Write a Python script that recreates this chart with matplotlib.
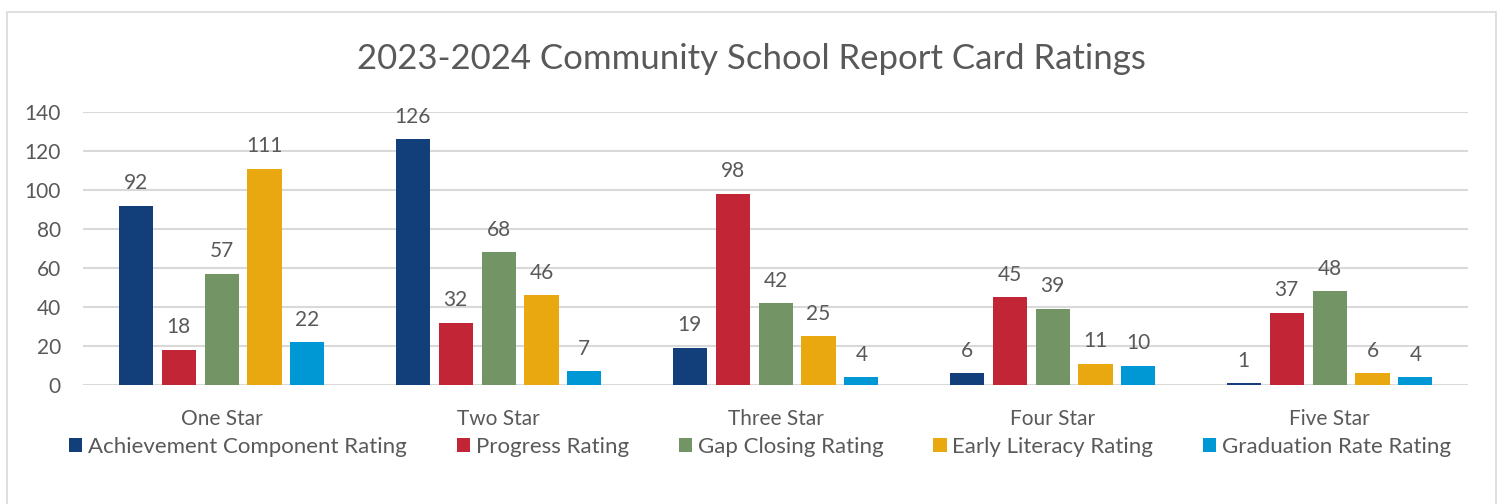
import numpy as np
import matplotlib.pyplot as plt
from matplotlib.patches import Rectangle

plt.rcParams["font.family"] = ["Lato", "DejaVu Sans"]

categories = ["One Star", "Two Star", "Three Star", "Four Star", "Five Star"]
series_names = [
    "Achievement Component Rating",
    "Progress Rating",
    "Gap Closing Rating",
    "Early Literacy Rating",
    "Graduation Rate Rating",
]
achievement = [92, 126, 19, 6, 1]
progress = [18, 32, 98, 45, 37]
gap_closing = [57, 68, 42, 39, 48]
early_literacy = [111, 46, 25, 11, 6]
graduation = [22, 7, 4, 10, 4]
colors = ["#123E7A", "#C22535", "#739464", "#E9A710", "#0098D4"]

text_color = "#595959"
grid_color = "#D9D9D9"

fig = plt.figure(figsize=(15.02, 5.04), dpi=100)
ax = fig.add_axes([0.0553, 0.2361, 0.9221, 0.5417])

x = np.arange(len(categories))
step = 0.155
width = 0.123
all_series = [achievement, progress, gap_closing, early_literacy, graduation]
for j, (name, vals, c) in enumerate(zip(series_names, all_series, colors)):
    pos = x + (j - 2) * step
    bars = ax.bar(pos, vals, width=width, color=c, label=name, zorder=3)
    for b, v in zip(bars, vals):
        ax.annotate(str(v), (b.get_x() + b.get_width() / 2, v),
                    xytext=(0, 9), textcoords="offset points",
                    ha="center", va="bottom", fontsize=15, color=text_color)

ax.set_xlim(-0.5, 4.5)
ax.set_ylim(0, 140)
ax.set_yticks(range(0, 141, 20))
ax.set_xticks(x)
ax.set_xticklabels(categories)
ax.yaxis.grid(True, color=grid_color, linewidth=1.5, zorder=0)
for s in ax.spines.values():
    s.set_visible(False)
ax.tick_params(axis="both", length=0, labelsize=15, colors=text_color)
ax.tick_params(axis="y", pad=16)
ax.tick_params(axis="x", pad=17)

fig.suptitle("2023-2024 Community School Report Card Ratings", y=0.915,
             fontsize=25, color=text_color)

fig.legend(loc="center", bbox_to_anchor=(0.506, 0.113), ncol=5, frameon=False,
           fontsize=16, handlelength=0.6, handleheight=0.6, handletextpad=0.25,
           columnspacing=2.25, labelcolor=text_color)

fig.patches.append(Rectangle((7 / 1502, -0.1), 1489 / 1502, 1 - 12 / 504 + 0.1,
                             transform=fig.transFigure, fill=False,
                             edgecolor="#D9D9D9", linewidth=1.2))

fig.savefig("out.png", dpi=100)
